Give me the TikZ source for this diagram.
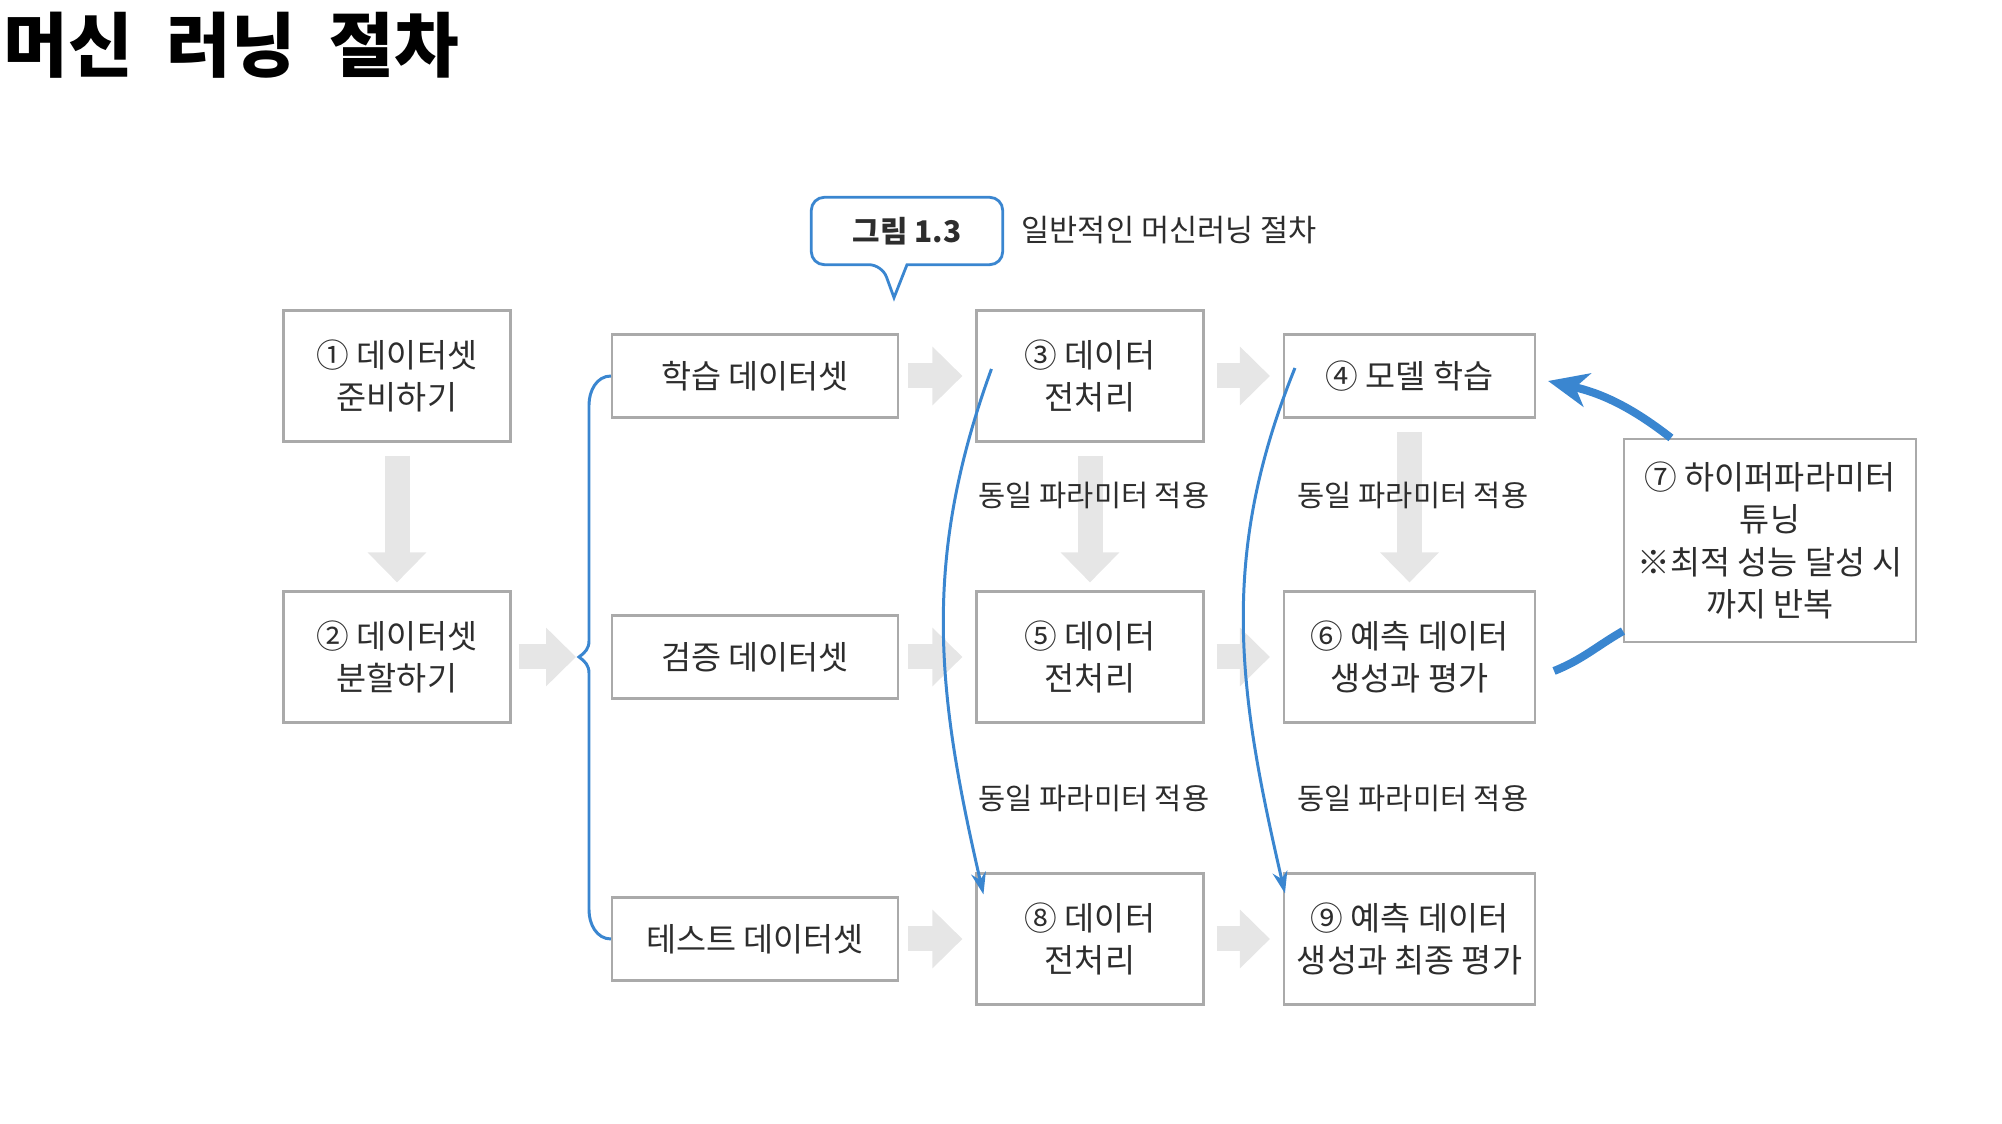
\documentclass[tikz,border=0pt]{standalone}
\usepackage{fontspec}
\setmainfont{Noto Sans CJK KR}
\usepackage{tikz}
\usetikzlibrary{arrows.meta}
\definecolor{flowblue}{RGB}{58,134,208}
\definecolor{boxline}{RGB}{170,170,170}
\definecolor{arrowgrey}{RGB}{230,230,230}
\definecolor{textgrey}{RGB}{45,45,45}

\begin{document}
\begin{tikzpicture}[
    box/.style={rectangle, draw=boxline, line width=0.6pt, fill=white, inner sep=0pt,
                align=center, font=\fontsize{9.3}{12}\selectfont, text=textgrey},
    tall/.style={box, minimum width=2.27cm, minimum height=1.31cm},
    flat/.style={box, minimum width=2.86cm, minimum height=0.83cm},
    wide/.style={box, minimum width=2.51cm},
    fatarr/.style={-{Triangle[length=0.3cm,width=0.57cm]}, line width=0.25cm, arrowgrey},
    note/.style={inner sep=0pt, font=\fontsize{8.4}{10}\selectfont, text=textgrey},
    bluearr/.style={-{Stealth[length=0.22cm,width=0.15cm]}, line width=0.85pt, flowblue},
    tuneline/.style={line width=2.3pt, flowblue}
]
\useasboundingbox (0,0) rectangle (20.02,-11.24);

\node[anchor=north west, inner sep=0pt, font=\fontsize{20}{24}\selectfont\bfseries] (title) at (0.03,-0.11) {머신\hspace{0.48em}러닝\hspace{0.48em}절차};

\node[inner sep=0pt, minimum width=1.9cm, minimum height=0.66cm,
      font=\fontsize{8.5}{10}\selectfont\bfseries, text=textgrey] (fig) at (9.07,-2.31) {그림 1.3};
\draw[flowblue, line width=0.8pt, rounded corners=0.13cm] (fig.south) -- (fig.south east) -- (fig.north east)
    -- (fig.north west) -- (fig.south west) -- ([xshift=-0.25cm]fig.south)
    [sharp corners] -- ([xshift=-0.13cm,yshift=-0.33cm]fig.south) -- cycle;
\node[note, anchor=west, font=\fontsize{8.7}{10}\selectfont] (caption) at (10.21,-2.30) {일반적인 머신러닝 절차};

\node[tall] (prep) at (3.97,-3.76) {① 데이터셋\\준비하기};
\node[tall] (split) at (3.97,-6.57) {② 데이터셋\\분할하기};
\node[flat] (train) at (7.55,-3.76) {학습 데이터셋};
\node[flat] (valid) at (7.55,-6.57) {검증 데이터셋};
\node[flat] (test) at (7.55,-9.39) {테스트 데이터셋};
\node[tall] (pre1) at (10.90,-3.76) {③ 데이터\\전처리};
\node[tall] (pre2) at (10.90,-6.57) {⑤ 데이터\\전처리};
\node[tall] (pre3) at (10.90,-9.39) {⑧ 데이터\\전처리};
\node[wide, minimum height=0.83cm] (model) at (14.095,-3.76) {④ 모델 학습};
\node[wide, minimum height=1.31cm] (pred) at (14.095,-6.57) {⑥ 예측 데이터\\생성과 평가};
\node[wide, minimum height=1.31cm] (final) at (14.095,-9.39) {⑨ 예측 데이터\\생성과 최종 평가};
\node[box, minimum width=2.92cm, minimum height=2.03cm] (tune) at (17.70,-5.405) {⑦ 하이퍼파라미터\\튜닝\\※최적 성능 달성 시\\까지 반복};

\coordinate (bracetip) at (5.79,-6.57);

\draw[fatarr, shorten <=0.13cm, shorten >=0.08cm] (prep.south) -- (split.north);
\draw[fatarr, shorten <=0.13cm, shorten >=0.08cm] (pre1.south) -- (pre2.north);
\draw[fatarr, shorten <=0.13cm, shorten >=0.08cm] (model.south) -- (pred.north);
\draw[fatarr, shorten <=0.07cm, shorten >=0.03cm] (split.east) -- (bracetip);
\draw[fatarr, shorten <=0.09cm, shorten >=0.13cm] (train.east) -- (pre1.west);
\draw[fatarr, shorten <=0.09cm, shorten >=0.13cm] (valid.east) -- (pre2.west);
\draw[fatarr, shorten <=0.09cm, shorten >=0.13cm] (test.east) -- (pre3.west);
\draw[fatarr, shorten <=0.12cm, shorten >=0.13cm] (pre1.east) -- (model.west);
\draw[fatarr, shorten <=0.12cm, shorten >=0.13cm] (pre2.east) -- (pred.west);
\draw[fatarr, shorten <=0.12cm, shorten >=0.13cm] (pre3.east) -- (final.west);

\node[note] (same1) at (10.94,-4.95) {동일 파라미터 적용};
\node[note] (same2) at (14.13,-4.95) {동일 파라미터 적용};
\node[note] (same3) at (10.94,-7.98) {동일 파라미터 적용};
\node[note] (same4) at (14.13,-7.98) {동일 파라미터 적용};

\draw[line width=0.85pt, flowblue] (train.west) to[out=180,in=90] (5.89,-4.05) -- (5.89,-6.41)
    to[out=-90,in=35] (bracetip) to[out=-35,in=90] (5.89,-6.73) -- (5.89,-9.10) to[out=-90,in=180] (test.west);

\draw[bluearr] ([xshift=0.16cm,yshift=0.07cm]pre1.west) to[out=-110,in=103] ([xshift=0.08cm,yshift=-0.22cm]pre3.north west);
\draw[bluearr] ([xshift=0.12cm,yshift=0.08cm]model.west) to[out=-112,in=103] ([xshift=0.02cm,yshift=-0.21cm]final.north west);

\draw[tuneline] ([xshift=0.18cm,yshift=-0.14cm]pred.east) to[out=22,in=210] ([yshift=0.12cm]tune.south west);
\draw[tuneline, -{Stealth[length=0.4cm,width=0.34cm,inset=0.12cm]}] ([xshift=0.48cm]tune.north west) to[out=142,in=-13] ([xshift=0.12cm,yshift=-0.05cm]model.east);
\end{tikzpicture}
\end{document}
